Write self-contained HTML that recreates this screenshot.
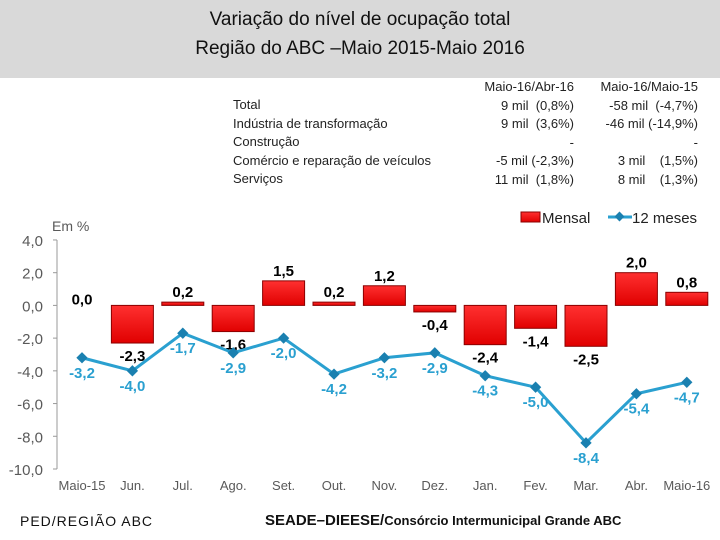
<!DOCTYPE html>
<html><head><meta charset="utf-8"><style>
body{margin:0;width:720px;height:540px;background:#fff;font-family:"Liberation Sans",sans-serif;position:relative;overflow:hidden}
.hdr{position:absolute;left:0;top:0;width:720px;height:78px;background:#d9d9d9;text-align:center;font-size:19px;line-height:29px;padding-top:5px;box-sizing:border-box;color:#111}
.t{position:absolute;font-size:13px;line-height:18.5px;color:#222}
.r{text-align:right}
</style></head><body>
<div class="hdr">Variação do nível de ocupação total<br>Região do ABC –Maio 2015-Maio 2016</div>
<div class="t" style="left:233px;top:96px">Total<br>Indústria de transformação<br>Construção<br>Comércio e reparação de veículos<br>Serviços</div>
<div class="t r" style="left:440px;top:78px;width:134px">Maio-16/Abr-16<br>9 mil&nbsp; (0,8%)<br>9 mil&nbsp; (3,6%)<br>-<br>-5 mil (-2,3%)<br>11 mil&nbsp; (1,8%)</div>
<div class="t r" style="left:570px;top:78px;width:128px">Maio-16/Maio-15<br>-58 mil&nbsp; (-4,7%)<br>-46 mil (-14,9%)<br>-<br>3 mil&nbsp;&nbsp;&nbsp; (1,5%)<br>8 mil&nbsp;&nbsp;&nbsp; (1,3%)</div>
<svg id="c" width="720" height="540" style="position:absolute;left:0;top:0">
<defs><linearGradient id="g" x1="0" y1="0" x2="0" y2="1"><stop offset="0" stop-color="#ff3030"/><stop offset="1" stop-color="#e00000"/></linearGradient></defs>
</svg>
<div class="t" style="left:20px;top:512px;font-size:14px;letter-spacing:1px;color:#111">PED/REGIÃO ABC</div>
<div class="t" style="left:265px;top:512px;font-size:15px;font-weight:bold;color:#111">SEADE–DIEESE/<span style="font-size:13px">Consórcio Intermunicipal Grande ABC</span></div>
<script>
const categories=["Maio-15","Jun.","Jul.","Ago.","Set.","Out.","Nov.","Dez.","Jan.","Fev.","Mar.","Abr.","Maio-16"];
const mensal=[0.0,-2.3,0.2,-1.6,1.5,0.2,1.2,-0.4,-2.4,-1.4,-2.5,2.0,0.8];
const meses12=[-3.2,-4.0,-1.7,-2.9,-2.0,-4.2,-3.2,-2.9,-4.3,-5.0,-8.4,-5.4,-4.7];
const yTicks=[4,2,0,-2,-4,-6,-8,-10];
const svg=document.getElementById('c');const NS='http://www.w3.org/2000/svg';
const y=v=>305.4-v*16.36;const x=i=>82+i*50.4;
const fmt=v=>v.toFixed(1).replace('.',',');
function mk(t,a,p){const e=document.createElementNS(NS,t);for(const k in a)e.setAttribute(k,a[k]);(p||svg).appendChild(e);return e;}
let ax=mk('line',{x1:57,y1:y(4),x2:57,y2:y(-10),stroke:'#999'});


yTicks.forEach(v=>{mk('line',{x1:53,x2:57,y1:y(v),y2:y(v),stroke:'#999'});
const t=mk('text',{x:43,y:y(v)+6,'text-anchor':'end','font-size':15,fill:'#595959'});t.textContent=fmt(v);

});
const em=mk('text',{x:52,y:231,'font-size':14,fill:'#595959'});em.textContent='Em %';


categories.forEach((c,i)=>{const t=mk('text',{x:x(i),y:490,'text-anchor':'middle','font-size':13,fill:'#595959'});t.textContent=c;

});
mensal.forEach((v,i)=>{const top=Math.min(y(v),y(0)),h=Math.max(Math.abs(y(v)-y(0)),v===0?0:3);
if(h>0){const r=mk('rect',{x:x(i)-21,y:top,width:42,height:h,fill:'url(#g)',stroke:'#8b0000','stroke-width':1});

}
const ly=v>0?y(v)-5:(v<0?y(v)+18:y(0)-1);
const t=mk('text',{x:x(i),y:ly,'text-anchor':'middle','font-size':15,'font-weight':'bold',fill:'#000'});t.textContent=fmt(v);

});
const pl=mk('polyline',{points:meses12.map((v,i)=>x(i)+','+y(v)).join(' '),fill:'none',stroke:'#2aa0d0','stroke-width':3});


meses12.forEach((v,i)=>{const d=mk('rect',{x:x(i)-4,y:y(v)-4,width:8,height:8,fill:'#1a80b0',transform:`rotate(45 ${x(i)} ${y(v)})`});


const t=mk('text',{x:x(i),y:y(v)+20,'text-anchor':'middle','font-size':15,'font-weight':'bold',fill:'#2aa0d0'});t.textContent=fmt(v);

});
const l1=mk('rect',{x:521,y:212,width:19,height:10,fill:'url(#g)',stroke:'#8b0000'});


const lt1=mk('text',{x:542,y:223,'font-size':15,fill:'#222'});lt1.textContent='Mensal';


const l2=mk('line',{x1:608,x2:632,y1:217,y2:217,stroke:'#2aa0d0','stroke-width':3});


mk('rect',{x:616,y:213,width:7,height:7,fill:'#1a80b0',transform:'rotate(45 619.5 216.5)'});
const lt2=mk('text',{x:632,y:223,'font-size':15,fill:'#222'});lt2.textContent='12 meses';


</script>
</body></html>
